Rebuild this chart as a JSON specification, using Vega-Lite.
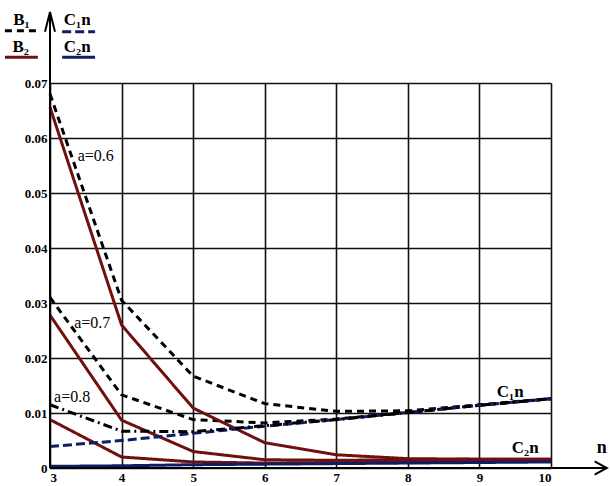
{
  "$schema": "https://vega.github.io/schema/vega-lite/v6.json",
  "width": 501,
  "height": 385,
  "autosize": "none",
  "padding": {"left": 50, "top": 83, "right": 59, "bottom": 18},
  "background": "white",
  "config": {
    "view": {"stroke": null},
    "axis": {
      "labelFont": "Liberation Serif",
      "labelFontWeight": "bold",
      "labelFontSize": 13,
      "labelColor": "black",
      "ticks": false,
      "domain": false,
      "grid": true,
      "gridColor": "#111111",
      "gridWidth": 1.6,
      "gridOpacity": 1
    }
  },
  "datasets": {
    "curves": [
      {"curve": "B1", "a": "0.6", "n": 3, "v": 0.068},
      {"curve": "B1", "a": "0.6", "n": 4, "v": 0.0305},
      {"curve": "B1", "a": "0.6", "n": 5, "v": 0.0167},
      {"curve": "B1", "a": "0.6", "n": 6, "v": 0.0117},
      {"curve": "B1", "a": "0.6", "n": 7, "v": 0.0103},
      {"curve": "B1", "a": "0.6", "n": 8, "v": 0.0104},
      {"curve": "B1", "a": "0.6", "n": 9, "v": 0.0115},
      {"curve": "B1", "a": "0.6", "n": 10, "v": 0.0126},
      {"curve": "B1", "a": "0.7", "n": 3, "v": 0.031},
      {"curve": "B1", "a": "0.7", "n": 4, "v": 0.0133},
      {"curve": "B1", "a": "0.7", "n": 5, "v": 0.0088},
      {"curve": "B1", "a": "0.7", "n": 6, "v": 0.0082},
      {"curve": "B1", "a": "0.7", "n": 7, "v": 0.0089},
      {"curve": "B1", "a": "0.7", "n": 8, "v": 0.0101},
      {"curve": "B1", "a": "0.7", "n": 9, "v": 0.0114},
      {"curve": "B1", "a": "0.7", "n": 10, "v": 0.0126},
      {"curve": "B1", "a": "0.8", "n": 3, "v": 0.0115},
      {"curve": "B1", "a": "0.8", "n": 4, "v": 0.0067},
      {"curve": "B1", "a": "0.8", "n": 5, "v": 0.0066},
      {"curve": "B1", "a": "0.8", "n": 6, "v": 0.0077},
      {"curve": "B1", "a": "0.8", "n": 7, "v": 0.0088},
      {"curve": "B1", "a": "0.8", "n": 8, "v": 0.0101},
      {"curve": "B1", "a": "0.8", "n": 9, "v": 0.0114},
      {"curve": "B1", "a": "0.8", "n": 10, "v": 0.0126},
      {"curve": "B2", "a": "0.6", "n": 3, "v": 0.0656},
      {"curve": "B2", "a": "0.6", "n": 4, "v": 0.026},
      {"curve": "B2", "a": "0.6", "n": 5, "v": 0.0109},
      {"curve": "B2", "a": "0.6", "n": 6, "v": 0.0046},
      {"curve": "B2", "a": "0.6", "n": 7, "v": 0.0024},
      {"curve": "B2", "a": "0.6", "n": 8, "v": 0.0017},
      {"curve": "B2", "a": "0.6", "n": 9, "v": 0.0016},
      {"curve": "B2", "a": "0.6", "n": 10, "v": 0.0016},
      {"curve": "B2", "a": "0.7", "n": 3, "v": 0.0278},
      {"curve": "B2", "a": "0.7", "n": 4, "v": 0.0087},
      {"curve": "B2", "a": "0.7", "n": 5, "v": 0.003},
      {"curve": "B2", "a": "0.7", "n": 6, "v": 0.0015},
      {"curve": "B2", "a": "0.7", "n": 7, "v": 0.0014},
      {"curve": "B2", "a": "0.7", "n": 8, "v": 0.0015},
      {"curve": "B2", "a": "0.7", "n": 9, "v": 0.0016},
      {"curve": "B2", "a": "0.7", "n": 10, "v": 0.0016},
      {"curve": "B2", "a": "0.8", "n": 3, "v": 0.0088},
      {"curve": "B2", "a": "0.8", "n": 4, "v": 0.002},
      {"curve": "B2", "a": "0.8", "n": 5, "v": 0.0011},
      {"curve": "B2", "a": "0.8", "n": 6, "v": 0.0009},
      {"curve": "B2", "a": "0.8", "n": 7, "v": 0.001},
      {"curve": "B2", "a": "0.8", "n": 8, "v": 0.0012},
      {"curve": "B2", "a": "0.8", "n": 9, "v": 0.0014},
      {"curve": "B2", "a": "0.8", "n": 10, "v": 0.0015},
      {"curve": "C1n", "a": "-", "n": 3, "v": 0.0039},
      {"curve": "C1n", "a": "-", "n": 4, "v": 0.005},
      {"curve": "C1n", "a": "-", "n": 5, "v": 0.0063},
      {"curve": "C1n", "a": "-", "n": 6, "v": 0.0076},
      {"curve": "C1n", "a": "-", "n": 7, "v": 0.0088},
      {"curve": "C1n", "a": "-", "n": 8, "v": 0.0101},
      {"curve": "C1n", "a": "-", "n": 9, "v": 0.0114},
      {"curve": "C1n", "a": "-", "n": 10, "v": 0.0126},
      {"curve": "C2n", "a": "-", "n": 3, "v": 0.0003},
      {"curve": "C2n", "a": "-", "n": 4, "v": 0.0004},
      {"curve": "C2n", "a": "-", "n": 5, "v": 0.0006},
      {"curve": "C2n", "a": "-", "n": 6, "v": 0.0007},
      {"curve": "C2n", "a": "-", "n": 7, "v": 0.0008},
      {"curve": "C2n", "a": "-", "n": 8, "v": 0.0009},
      {"curve": "C2n", "a": "-", "n": 9, "v": 0.001},
      {"curve": "C2n", "a": "-", "n": 10, "v": 0.0011}
    ],
    "keys": [
      {"curve": "B1", "n": 2.37, "n2": 2.83, "v": 0.0795},
      {"curve": "B2", "n": 2.37, "n2": 2.83, "v": 0.0747},
      {"curve": "C1n", "n": 3.17, "n2": 3.63, "v": 0.0793},
      {"curve": "C2n", "n": 3.17, "n2": 3.63, "v": 0.0747}
    ],
    "keytext": [
      {"t": "B₁", "n": 2.6, "v": 0.0815},
      {"t": "B₂", "n": 2.59, "v": 0.0766},
      {"t": "C₁n", "n": 3.38, "v": 0.0815},
      {"t": "C₂n", "n": 3.38, "v": 0.0766},
      {"t": "C₁n", "n": 9.43, "v": 0.0138},
      {"t": "C₂n", "n": 9.64, "v": 0.0036}
    ],
    "alabels": [
      {"t": "a=0.6", "n": 3.64, "v": 0.0567},
      {"t": "a=0.7", "n": 3.59, "v": 0.0264},
      {"t": "a=0.8", "n": 3.31, "v": 0.0129}
    ],
    "axislines": [
      {"n": 3, "v": 0, "n2": 3, "v2": 0.0829},
      {"n": 3, "v": 0, "n2": 10.78, "v2": 0}
    ],
    "arrows": [
      {"arrow": "y", "k": 1, "n": 2.93, "v": 0.0793},
      {"arrow": "y", "k": 2, "n": 3, "v": 0.0829},
      {"arrow": "y", "k": 3, "n": 3.07, "v": 0.0793},
      {"arrow": "x", "k": 1, "n": 10.61, "v": 0.0012},
      {"arrow": "x", "k": 2, "n": 10.78, "v": 0},
      {"arrow": "x", "k": 3, "n": 10.61, "v": -0.0012}
    ]
  },
  "layer": [
    {
      "data": {"name": "curves"},
      "transform": [{"filter": "!(datum.curve == 'B1' && datum.a == '0.8')"}],
      "mark": {"type": "line", "strokeWidth": 3},
      "encoding": {
        "x": {
          "field": "n", "type": "quantitative",
          "scale": {"domain": [3, 10], "nice": false, "zero": false},
          "axis": {"title": null, "values": [3, 4, 5, 6, 7, 8, 9, 10], "format": "d", "labelPadding": 3}
        },
        "y": {
          "field": "v", "type": "quantitative",
          "scale": {"domain": [0, 0.07], "nice": false},
          "axis": {
            "title": null,
            "values": [0, 0.01, 0.02, 0.03, 0.04, 0.05, 0.06, 0.07],
            "labelExpr": "datum.value == 0 ? '0' : format(datum.value, '.2f')",
            "labelPadding": 3
          }
        },
        "color": {
          "field": "curve", "type": "nominal",
          "scale": {"domain": ["B1", "B2", "C1n", "C2n"], "range": ["#000000", "#6e1010", "#101c66", "#101c66"]},
          "legend": null
        },
        "strokeDash": {
          "field": "curve", "type": "nominal",
          "scale": {"domain": ["B1", "B2", "C1n", "C2n"], "range": [[7, 5], [1, 0], [9, 4], [1, 0]]},
          "legend": null
        },
        "detail": {"field": "a"},
        "order": {"field": "n"}
      }
    },
    {
      "data": {"name": "curves"},
      "transform": [{"filter": "datum.curve == 'B1' && datum.a == '0.8'"}],
      "mark": {"type": "line", "strokeWidth": 3, "color": "black", "strokeDash": [9, 4, 2, 4]},
      "encoding": {
        "x": {"field": "n", "type": "quantitative"},
        "y": {"field": "v", "type": "quantitative"}
      }
    },
    {
      "data": {"name": "keys"},
      "mark": {"type": "rule", "strokeWidth": 3},
      "encoding": {
        "x": {"field": "n", "type": "quantitative"},
        "x2": {"field": "n2"},
        "y": {"field": "v", "type": "quantitative"},
        "color": {"field": "curve", "type": "nominal", "legend": null},
        "strokeDash": {"field": "curve", "type": "nominal", "legend": null}
      }
    },
    {
      "data": {"name": "axislines"},
      "mark": {"type": "rule", "strokeWidth": 2, "color": "black"},
      "encoding": {
        "x": {"field": "n", "type": "quantitative"},
        "x2": {"field": "n2"},
        "y": {"field": "v", "type": "quantitative"},
        "y2": {"field": "v2"}
      }
    },
    {
      "data": {"name": "arrows"},
      "mark": {"type": "line", "strokeWidth": 2, "color": "black"},
      "encoding": {
        "x": {"field": "n", "type": "quantitative"},
        "y": {"field": "v", "type": "quantitative"},
        "detail": {"field": "arrow"},
        "order": {"field": "k"}
      }
    },
    {
      "data": {"name": "keytext"},
      "mark": {"type": "text", "font": "Liberation Serif", "fontWeight": "bold", "fontSize": 17, "color": "black", "baseline": "middle"},
      "encoding": {
        "x": {"field": "n", "type": "quantitative"},
        "y": {"field": "v", "type": "quantitative"},
        "text": {"field": "t"}
      }
    },
    {
      "data": {"name": "alabels"},
      "mark": {"type": "text", "font": "Liberation Serif", "fontSize": 16, "color": "black", "baseline": "middle"},
      "encoding": {
        "x": {"field": "n", "type": "quantitative"},
        "y": {"field": "v", "type": "quantitative"},
        "text": {"field": "t"}
      }
    },
    {
      "data": {"values": [{"t": "n", "n": 10.71, "v": 0.0036}]},
      "mark": {"type": "text", "font": "Liberation Serif", "fontWeight": "bold", "fontSize": 18, "color": "black", "baseline": "middle"},
      "encoding": {
        "x": {"field": "n", "type": "quantitative"},
        "y": {"field": "v", "type": "quantitative"},
        "text": {"field": "t"}
      }
    }
  ]
}
